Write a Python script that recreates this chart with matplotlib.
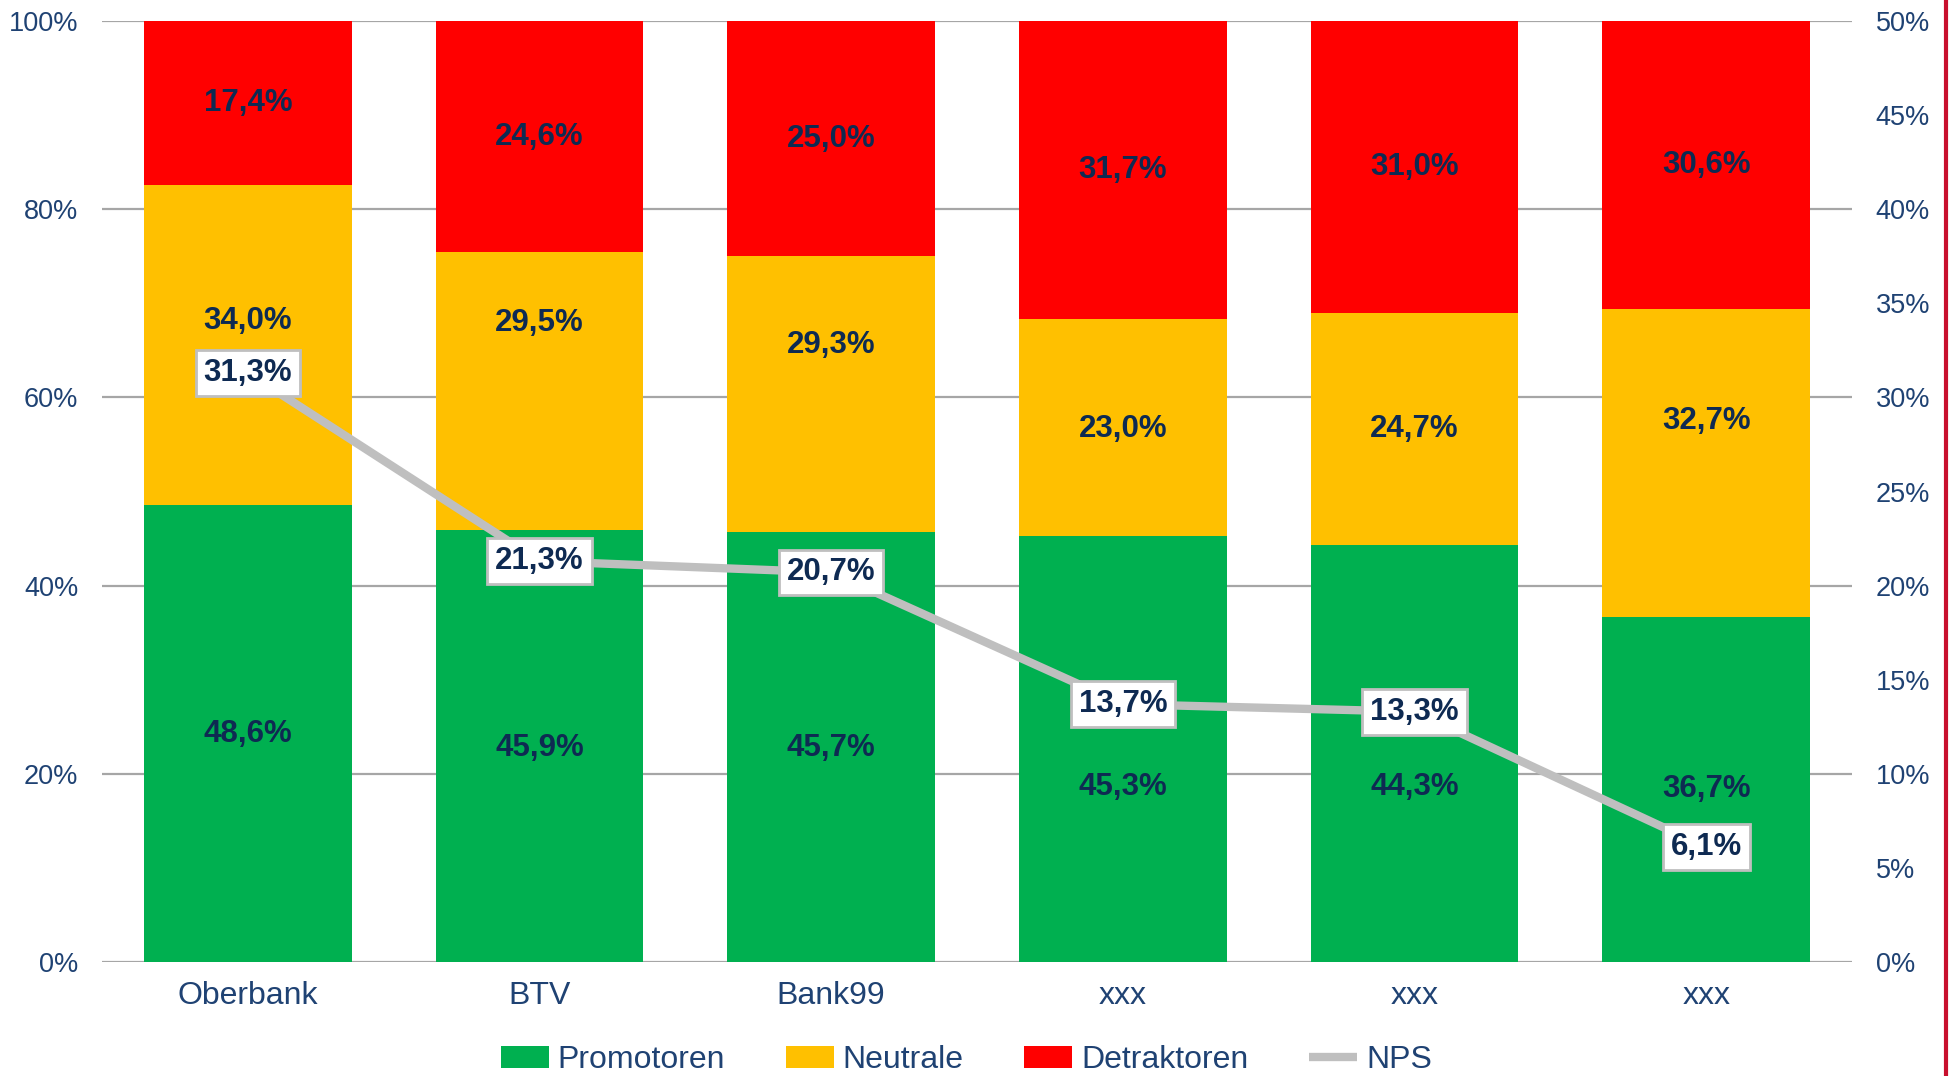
import matplotlib
matplotlib.use("Agg")
import matplotlib.pyplot as plt
from matplotlib.lines import Line2D
import numpy as np

plt.rcParams['font.family'] = ['Liberation Sans', 'DejaVu Sans']

categories = ["Oberbank", "BTV", "Bank99", "xxx", "xxx", "xxx"]
promotoren = [48.6, 45.9, 45.7, 45.3, 44.3, 36.7]
neutrale = [34.0, 29.5, 29.3, 23.0, 24.7, 32.7]
detraktoren = [17.4, 24.6, 25.0, 31.7, 31.0, 30.6]
nps = [31.3, 21.3, 20.7, 13.7, 13.3, 6.1]
left_ticks = [0, 20, 40, 60, 80, 100]
right_ticks = [0, 5, 10, 15, 20, 25, 30, 35, 40, 45, 50]

# manual label nudges (percentage points), as in the original
promo_shift = [-0.1, -0.2, -0.1, -4.0, -3.5, 0.0]
neutral_shift = [2.5, 7.25, 5.25, -0.2, 0.0, 4.45]

GREEN = "#00B050"
YELLOW = "#FFC000"
RED = "#FF0000"
GREY = "#BFBFBF"
NAVY = "#0E2A52"
TICK = "#1F4273"
LBL = 22.5

def fmt(v):
    return f"{v:.1f}%".replace(".", ",")

fig = plt.figure(figsize=(19.52, 10.76), dpi=100)
ax = fig.add_axes([102/1952, 1-962/1076, 1750/1952, 941/1076])
x = np.arange(len(categories))
w = 0.713

p = np.array(promotoren)
n = np.array(neutrale)
d = np.array(detraktoren)

ax.bar(x, p, w, color=GREEN, label="Promotoren", zorder=2)
ax.bar(x, n, w, bottom=p, color=YELLOW, label="Neutrale", zorder=2)
ax.bar(x, d, w, bottom=p + n, color=RED, label="Detraktoren", zorder=2)

for i in range(len(x)):
    ax.text(x[i], p[i]/2 + promo_shift[i], fmt(p[i]), ha='center', va='center',
            fontsize=LBL, fontweight='bold', color=NAVY, zorder=3)
    ax.text(x[i], p[i] + n[i]/2 + neutral_shift[i], fmt(n[i]), ha='center', va='center',
            fontsize=LBL, fontweight='bold', color=NAVY, zorder=3)
    ax.text(x[i], p[i] + n[i] + d[i]/2, fmt(d[i]), ha='center', va='center',
            fontsize=LBL, fontweight='bold', color=NAVY, zorder=3)

ax.set_xlim(-0.5, len(x) - 0.5)
ax.set_ylim(0, 100)
ax.set_yticks(left_ticks)
ax.set_yticklabels([f"{t}%" for t in left_ticks])
ax.set_xticks(x)
ax.set_xticklabels(categories)
ax.tick_params(axis='y', length=0, pad=17, labelsize=19.5, labelcolor=TICK)
ax.tick_params(axis='x', length=0, pad=14, labelsize=23, labelcolor=TICK)
ax.yaxis.grid(True, color="#A6A6A6", linewidth=1.6, zorder=0)
ax.set_axisbelow(True)
for s in ax.spines.values():
    s.set_visible(False)

ax2 = ax.twinx()
ax2.set_ylim(0, 50)
ax2.set_yticks(right_ticks)
ax2.set_yticklabels([f"{t}%" for t in right_ticks])
ax2.tick_params(axis='y', length=0, pad=17, labelsize=19.5, labelcolor=TICK)
for s in ax2.spines.values():
    s.set_visible(False)
ax2.plot(x, nps, color=GREY, linewidth=6, label="NPS", zorder=4, solid_capstyle='butt')
for i in range(len(x)):
    ax2.text(x[i], nps[i], fmt(nps[i]), ha='center', va='center', fontsize=LBL,
             fontweight='bold', color=NAVY, zorder=5,
             bbox=dict(boxstyle='square,pad=0.25', facecolor='white', edgecolor=GREY, linewidth=2))

h1, l1 = ax.get_legend_handles_labels()
h2, l2 = ax2.get_legend_handles_labels()
fig.legend(h1 + h2, l1 + l2, loc='center', bbox_to_anchor=(0.495, 1-1060/1076), ncol=4,
           frameon=False, fontsize=23, labelcolor=TICK, handlelength=1.5, handleheight=0.7,
           handletextpad=0.28, columnspacing=1.9)

fig.add_artist(Line2D([1946/1952, 1946/1952], [0, 1], transform=fig.transFigure,
                      color="#C8102E", linewidth=3))

fig.savefig("out.png", dpi=100)
